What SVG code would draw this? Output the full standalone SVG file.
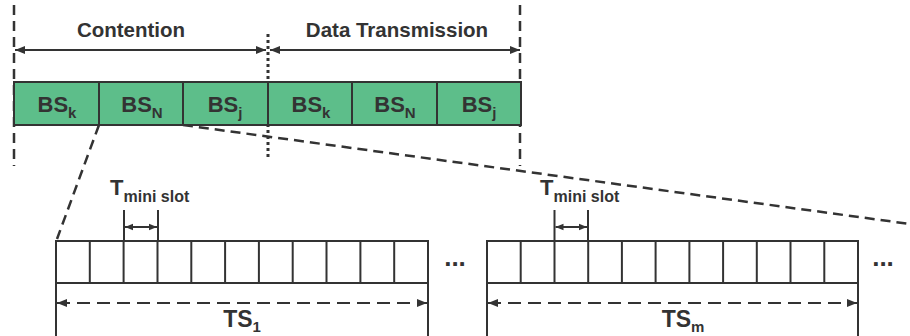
<svg xmlns="http://www.w3.org/2000/svg" width="910" height="336" viewBox="0 0 910 336">
<defs>
<marker id="ah" viewBox="0 0 10 10" refX="10" refY="5" markerWidth="10" markerHeight="10" markerUnits="userSpaceOnUse" orient="auto-start-reverse">
<path d="M0,1 L10,5 L0,9 Z" fill="#333"/>
</marker>
<marker id="ahs" viewBox="0 0 10 10" refX="10" refY="5" markerWidth="8" markerHeight="8" markerUnits="userSpaceOnUse" orient="auto-start-reverse">
<path d="M0,1 L10,5 L0,9 Z" fill="#333"/>
</marker>
</defs>
<style>
text{font-family:"Liberation Sans",Arial,sans-serif;font-weight:bold;fill:#333}
.bs{fill:#5dbe8a;stroke:#333;stroke-width:2}
.ms{fill:#fff;stroke:#333;stroke-width:2}
.ln{stroke:#333;stroke-width:2;fill:none}
.dash{stroke:#333;stroke-width:2.5;fill:none;stroke-dasharray:10,6}
.dot{stroke:#333;stroke-width:3;fill:none;stroke-dasharray:3,3}
.lbl{font-size:22px}
.ts{font-size:23px}
.sub{font-size:15px}
.msub{font-size:16px}
.hdr{font-size:20.5px}
.dots{font-size:26px}
</style>
<rect width="910" height="336" fill="#fff"/>
<g id="connectors">
<line class="dash" x1="14" y1="5" x2="14" y2="166"/>
<line class="dash" x1="520" y1="5" x2="520" y2="166"/>
<line class="dot" x1="268" y1="34" x2="268" y2="159"/>
<line class="ln" x1="15" y1="50" x2="266" y2="50" marker-start="url(#ah)" marker-end="url(#ah)"/>
<line class="ln" x1="270" y1="50" x2="520" y2="50" marker-start="url(#ah)" marker-end="url(#ah)"/>
<line class="dash" x1="99" y1="125" x2="57" y2="239"/>
<line class="dash" x1="183" y1="125" x2="910" y2="224"/>
<line class="ln" x1="124" y1="210" x2="124" y2="241"/>
<line class="ln" x1="158" y1="210" x2="158" y2="241"/>
<line class="ln" x1="125" y1="227" x2="157" y2="227" marker-start="url(#ahs)" marker-end="url(#ahs)"/>
<line class="ln" x1="554.5" y1="210" x2="554.5" y2="241"/>
<line class="ln" x1="588" y1="210" x2="588" y2="241"/>
<line class="ln" x1="555.5" y1="227" x2="587" y2="227" marker-start="url(#ahs)" marker-end="url(#ahs)"/>
<line class="ln" x1="56" y1="283" x2="56" y2="336"/>
<line class="ln" x1="428" y1="283" x2="428" y2="336"/>
<line class="ln" x1="57" y1="303" x2="427" y2="303" stroke-dasharray="13,7" marker-start="url(#ah)" marker-end="url(#ah)"/>
<line class="ln" x1="487" y1="283" x2="487" y2="336"/>
<line class="ln" x1="858" y1="283" x2="858" y2="336"/>
<line class="ln" x1="488" y1="303" x2="857" y2="303" stroke-dasharray="13,7" marker-start="url(#ah)" marker-end="url(#ah)"/>
</g>
<g id="labels">
<text class="hdr" x="131" y="37" text-anchor="middle">Contention</text>
<text class="hdr" x="397" y="37" text-anchor="middle">Data Transmission</text>
</g>
<g id="bs1"><rect class="bs" x="14" y="82" width="85" height="43"/><text class="lbl" x="57" y="112" text-anchor="middle">BS<tspan class="sub" dy="6">k</tspan></text></g>
<g id="bs2"><rect class="bs" x="99" y="82" width="84" height="43"/><text class="lbl" x="142" y="112" text-anchor="middle">BS<tspan class="sub" dy="6">N</tspan></text></g>
<g id="bs3"><rect class="bs" x="183" y="82" width="85" height="43"/><text class="lbl" x="225" y="112" text-anchor="middle">BS<tspan class="sub" dy="6">j</tspan></text></g>
<g id="bs4"><rect class="bs" x="268" y="82" width="84" height="43"/><text class="lbl" x="311" y="112" text-anchor="middle">BS<tspan class="sub" dy="6">k</tspan></text></g>
<g id="bs5"><rect class="bs" x="352" y="82" width="85" height="43"/><text class="lbl" x="395" y="112" text-anchor="middle">BS<tspan class="sub" dy="6">N</tspan></text></g>
<g id="bs6"><rect class="bs" x="437" y="82" width="84" height="43"/><text class="lbl" x="479" y="112" text-anchor="middle">BS<tspan class="sub" dy="6">j</tspan></text></g>
<g id="ts1">
<rect class="ms" x="56" y="241" width="372" height="42"/>
<path class="ln" d="M89.8,241V283M123.6,241V283M157.5,241V283M191.3,241V283M225.1,241V283M258.9,241V283M292.7,241V283M326.5,241V283M360.4,241V283M394.2,241V283"/>
<text class="lbl" x="110" y="195">T<tspan class="msub" dy="7">mini slot</tspan></text>
<text class="ts" x="242" y="327" text-anchor="middle">TS<tspan class="sub" dy="5">1</tspan></text>
</g>
<g id="tsm">
<rect class="ms" x="487" y="241" width="371" height="42"/>
<path class="ln" d="M520.7,241V283M554.5,241V283M588.2,241V283M621.9,241V283M655.6,241V283M689.4,241V283M723.1,241V283M756.8,241V283M790.5,241V283M824.3,241V283"/>
<text class="lbl" x="540" y="195">T<tspan class="msub" dy="7">mini slot</tspan></text>
<text class="ts" x="683" y="327" text-anchor="middle">TS<tspan class="sub" dy="5">m</tspan></text>
</g>
<g id="dots">
<text class="dots" x="455" y="266" text-anchor="middle">...</text>
<text class="dots" x="883" y="266" text-anchor="middle">...</text>
</g>
</svg>
